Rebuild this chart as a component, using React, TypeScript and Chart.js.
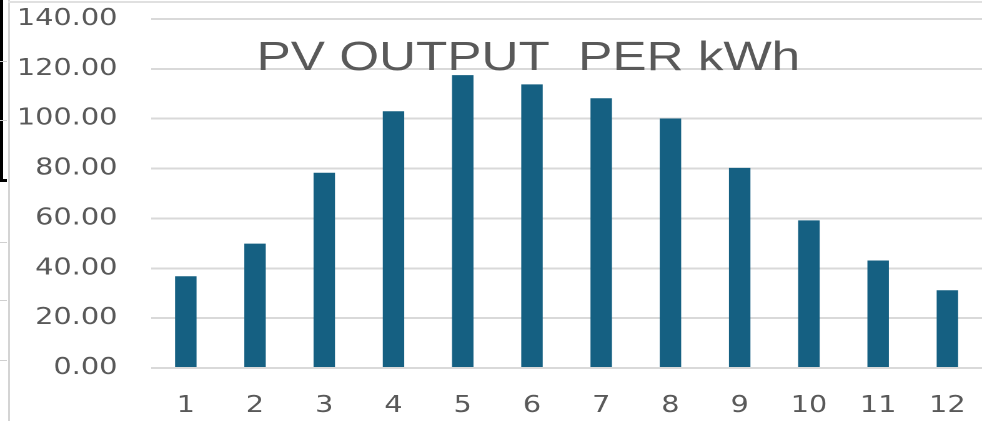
import React, { useEffect, useRef } from "react";
import { Chart, registerables } from "chart.js";

Chart.register(...registerables);

const categories: string[] = ["1", "2", "3", "4", "5", "6", "7", "8", "9", "10", "11", "12"];
const pvOutput: number[] = [36.8, 49.9, 78.3, 103.0, 117.5, 113.8, 108.2, 100.1, 80.3, 59.2, 43.1, 31.2];
const titleText = "PV OUTPUT  PER kWh";
const yMin = 0;
const yMax = 140;
const yStep = 20;

const LOGICAL_W = 786;
const H = 421;

const titlePlugin = {
  id: "overlayTitle",
  afterDraw(chart: any) {
    const { ctx, chartArea } = chart;
    ctx.save();
    ctx.font = '41px "Liberation Sans", Arial, sans-serif';
    ctx.fillStyle = "#595959";
    ctx.textAlign = "center";
    ctx.textBaseline = "alphabetic";
    const x = chartArea.left + (chartArea.right - chartArea.left) * 0.454;
    ctx.fillText(titleText, x, chartArea.top + 51);
    ctx.restore();
  },
};

export default function App() {
  const ref = useRef<HTMLCanvasElement | null>(null);
  useEffect(() => {
    document.body.style.margin = "0";
    const canvas = ref.current!;
    const chart = new Chart(canvas, {
      type: "bar",
      data: {
        labels: categories,
        datasets: [
          {
            data: pvOutput,
            backgroundColor: "#156082",
            borderWidth: 0,
            categoryPercentage: 1,
            barPercentage: 0.31,
          },
        ],
      },
      options: {
        responsive: false,
        devicePixelRatio: 2,
        animation: false,
        layout: { padding: { top: 19, left: 0, right: 0, bottom: 0 } },
        plugins: { legend: { display: false }, title: { display: false }, tooltip: { enabled: false } },
        scales: {
          x: {
            grid: { display: false },
            border: { display: false },
            ticks: {
              color: "#595959",
              font: { family: '"DejaVu Sans", sans-serif', size: 23 },
              padding: 16,
              maxRotation: 0,
            },
            afterFit(scale: any) {
              scale.height = 53;
              scale.paddingLeft = 0;
              scale.paddingRight = 0;
            },
          },
          y: {
            min: yMin,
            max: yMax,
            grid: { color: "#d9d9d9", lineWidth: 2, drawTicks: false },
            border: { display: false },
            ticks: {
              stepSize: yStep,
              color: "#595959",
              font: { family: '"DejaVu Sans", sans-serif', size: 23 },
              padding: 27,
              callback: (v: any) => Number(v).toFixed(2),
            },
            afterFit(scale: any) {
              scale.width = 121;
              scale.paddingTop = 0;
              scale.paddingBottom = 0;
            },
          },
        },
      },
      plugins: [titlePlugin],
    });
    return () => chart.destroy();
  }, []);

  const deco = (style: React.CSSProperties) => (
    <div style={{ position: "absolute", ...style }} />
  );

  return (
    <div style={{ position: "relative", width: 982, height: H, overflow: "hidden", background: "#fff" }}>
      <canvas
        ref={ref}
        width={LOGICAL_W}
        height={H}
        style={{ position: "absolute", left: 0, top: 0, width: "982px", height: `${H}px`, display: "block" }}
      />
      {deco({ left: 8, top: 0, width: 2, height: H, background: "#d4d4d4" })}
      {deco({ left: 8, top: 1, width: 974, height: 2, background: "#e0e0e0" })}
      {deco({ left: 0, top: 0, width: 3, height: 181, background: "#000" })}
      {deco({ left: 0, top: 179, width: 7, height: 3, background: "#000" })}
      {deco({ left: 0, top: 61, width: 7, height: 1, background: "#d0d0d0" })}
      {deco({ left: 0, top: 120, width: 7, height: 1, background: "#d0d0d0" })}
      {deco({ left: 0, top: 242, width: 7, height: 1, background: "#d0d0d0" })}
      {deco({ left: 0, top: 300, width: 7, height: 1, background: "#d0d0d0" })}
      {deco({ left: 0, top: 360, width: 7, height: 1, background: "#d0d0d0" })}
    </div>
  );
}
